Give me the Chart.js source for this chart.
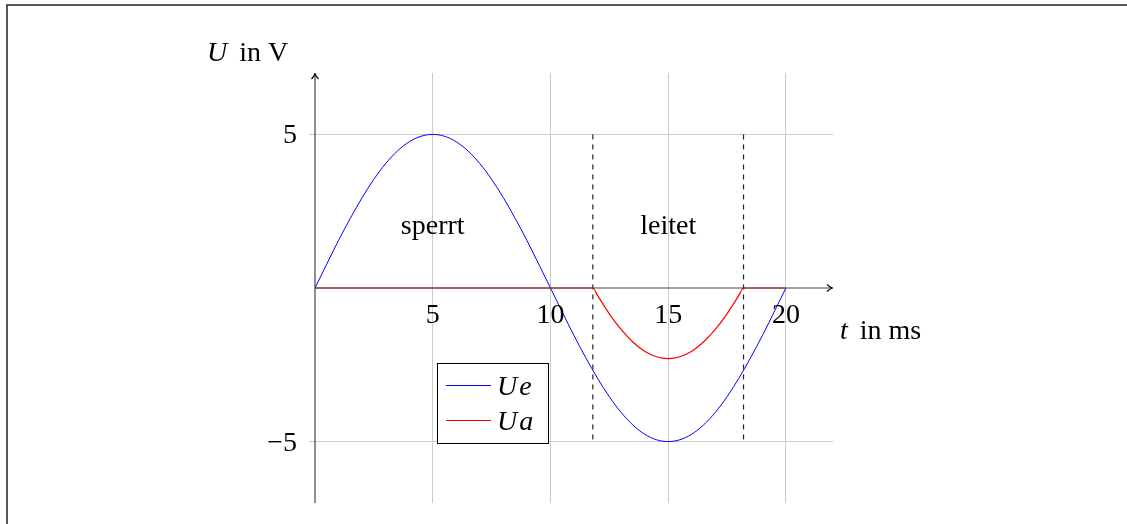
<!DOCTYPE html>
<html>
<head>
<meta charset="utf-8">
<script src="https://cdn.jsdelivr.net/npm/chart.js@4.4.1/dist/chart.umd.min.js"></script>
<style>
html,body{margin:0;padding:0;background:#fff;}
#wrap{width:1127px;height:524px;position:relative;}
</style>
</head>
<body>
<div id="wrap"><canvas id="c" width="1127" height="524"></canvas></div>
<script>
// ---- data ----
const ueTime = [0,0.5,1,1.5,2,2.5,3,3.5,4,4.5,5,5.5,6,6.5,7,7.5,8,8.5,9,9.5,10,10.5,11,11.5,12,12.5,13,13.5,14,14.5,15,15.5,16,16.5,17,17.5,18,18.5,19,19.5,20];
const ueValues = [0,0.78,1.55,2.27,2.94,3.54,4.05,4.46,4.76,4.94,5,4.94,4.76,4.46,4.05,3.54,2.94,2.27,1.55,0.78,0,-0.78,-1.55,-2.27,-2.94,-3.54,-4.05,-4.46,-4.76,-4.94,-5,-4.94,-4.76,-4.46,-4.05,-3.54,-2.94,-2.27,-1.55,-0.78,0];
const uaTime = [0,11.8,12,12.5,13,13.5,14,14.5,15,15.5,16,16.5,17,17.5,18,18.2,20];
const uaValues = [0,0,-0.24,-0.84,-1.35,-1.76,-2.06,-2.24,-2.3,-2.24,-2.06,-1.76,-1.35,-0.84,-0.24,0,0];
const boundaryTimes = [11.8, 18.2];
const boundaryRange = [5, -5];
const xTicks = [5, 10, 15, 20];
const yTicks = [-5, 5];
const seriesNames = ['Ue', 'Ua'];
const regionLabels = ['sperrt', 'leitet'];
const regionPos = [[5, 2], [15, 2]];
const xTitle = ['t', 'in ms'];
const yTitle = ['U', 'in V'];

const pts = (xs, ys) => xs.map((x, i) => ({x: x, y: ys[i]}));
const FONT = '"Liberation Serif", "DejaVu Serif", serif';
const FS = 28;

const datasets = [
  {label: seriesNames[0], data: pts(ueTime, ueValues), borderColor: '#0000ff', borderWidth: 1, pointRadius: 0, cubicInterpolationMode: 'monotone', order: 2},
  {label: seriesNames[1], data: pts(uaTime, uaValues), borderColor: '#ff0000', borderWidth: 1.2, pointRadius: 0, cubicInterpolationMode: 'monotone', order: 1}
];
boundaryTimes.forEach(t => datasets.push({
  label: '', data: pts([t, t], boundaryRange), borderColor: '#222', borderWidth: 1.2, borderDash: [5, 5], pointRadius: 0, order: 3
}));

const overlay = {
  id: 'overlay',
  beforeDraw(chart) {
    const ctx = chart.ctx;
    ctx.save();
    ctx.strokeStyle = '#222';
    ctx.lineWidth = 1.5;
    ctx.beginPath();
    ctx.moveTo(7, 524); ctx.lineTo(7, 5); ctx.lineTo(1127, 5);
    ctx.stroke();
    ctx.restore();
  },
  afterDatasetsDraw(chart) {
    const ctx = chart.ctx;
    const xs = chart.scales.x, ys = chart.scales.y;
    const a = chart.chartArea;
    const x0 = xs.getPixelForValue(0), y0 = ys.getPixelForValue(0);
    ctx.save();
    // axes
    ctx.strokeStyle = '#444';
    ctx.lineWidth = 1.2;
    ctx.beginPath();
    ctx.moveTo(x0, a.bottom); ctx.lineTo(x0, a.top + 1);
    ctx.moveTo(x0, y0); ctx.lineTo(a.right - 1, y0);
    ctx.stroke();
    // arrow heads
    ctx.strokeStyle = '#000';
    ctx.lineWidth = 1.2;
    ctx.beginPath();
    ctx.moveTo(x0 - 3.5, a.top + 6); ctx.quadraticCurveTo(x0, a.top + 2, x0, a.top); ctx.quadraticCurveTo(x0, a.top + 2, x0 + 3.5, a.top + 6);
    ctx.moveTo(a.right - 6, y0 - 3.5); ctx.quadraticCurveTo(a.right - 2, y0, a.right, y0); ctx.quadraticCurveTo(a.right - 2, y0, a.right - 6, y0 + 3.5);
    ctx.stroke();
    // tick labels
    ctx.fillStyle = '#000';
    ctx.font = FS + 'px ' + FONT;
    ctx.textBaseline = 'alphabetic';
    ctx.textAlign = 'center';
    xTicks.forEach(v => ctx.fillText(String(v), xs.getPixelForValue(v), y0 + 35));
    ctx.textAlign = 'right';
    yTicks.forEach(v => ctx.fillText(v < 0 ? '\u2212' + Math.abs(v) : String(v), x0 - 18, ys.getPixelForValue(v) + 9));
    // region labels
    ctx.textAlign = 'center';
    regionLabels.forEach((s, i) => ctx.fillText(s, xs.getPixelForValue(regionPos[i][0]), ys.getPixelForValue(regionPos[i][1]) + 7));
    // axis titles
    const drawTitle = (parts, x, y) => {
      ctx.textAlign = 'left';
      ctx.font = 'italic ' + FS + 'px ' + FONT;
      ctx.fillText(parts[0], x, y);
      const w = ctx.measureText(parts[0]).width;
      ctx.font = FS + 'px ' + FONT;
      ctx.fillText(parts[1], x + w + 12, y);
    };
    drawTitle(yTitle, 207, 61);
    drawTitle(xTitle, 840, 339);
    // legend
    const lx = 437, ly = 363, lw = 111, lh = 80;
    ctx.fillStyle = '#fff';
    ctx.fillRect(lx, ly, lw, lh);
    ctx.strokeStyle = '#000';
    ctx.lineWidth = 1;
    ctx.strokeRect(lx + 0.5, ly + 0.5, lw, lh);
    [0, 1].forEach(i => {
      const yy = 385.5 + i * 35;
      ctx.strokeStyle = datasets[i].borderColor;
      ctx.lineWidth = 1;
      ctx.beginPath(); ctx.moveTo(446, yy); ctx.lineTo(491, yy); ctx.stroke();
      ctx.fillStyle = '#000';
      ctx.font = 'italic ' + FS + 'px ' + FONT;
      ctx.textAlign = 'left';
      ctx.fillText(datasets[i].label.charAt(0), 497, yy + 9);
      const w = ctx.measureText(datasets[i].label.charAt(0)).width;
      ctx.fillText(datasets[i].label.slice(1), 497 + w + 2, yy + 9);
    });
    ctx.restore();
  }
};

new Chart(document.getElementById('c'), {
  type: 'line',
  data: {datasets: datasets},
  options: {
    responsive: false,
    animation: false,
    devicePixelRatio: 1,
    layout: {padding: {left: 309, top: 73, right: 294, bottom: 21}},
    plugins: {legend: {display: false}, tooltip: {enabled: false}},
    scales: {
      x: {
        type: 'linear', min: 0, max: 22,
        afterBuildTicks: s => { s.ticks = xTicks.map(v => ({value: v})); },
        ticks: {display: false},
        border: {display: false},
        grid: {color: '#cccccc', lineWidth: 1, drawTicks: false}
      },
      y: {
        type: 'linear', min: -7, max: 7,
        afterBuildTicks: s => { s.ticks = yTicks.map(v => ({value: v})); },
        ticks: {display: false},
        border: {display: false},
        grid: {color: '#cccccc', lineWidth: 1, drawTicks: true, tickLength: 6}
      }
    }
  },
  plugins: [overlay]
});
</script>
</body>
</html>
